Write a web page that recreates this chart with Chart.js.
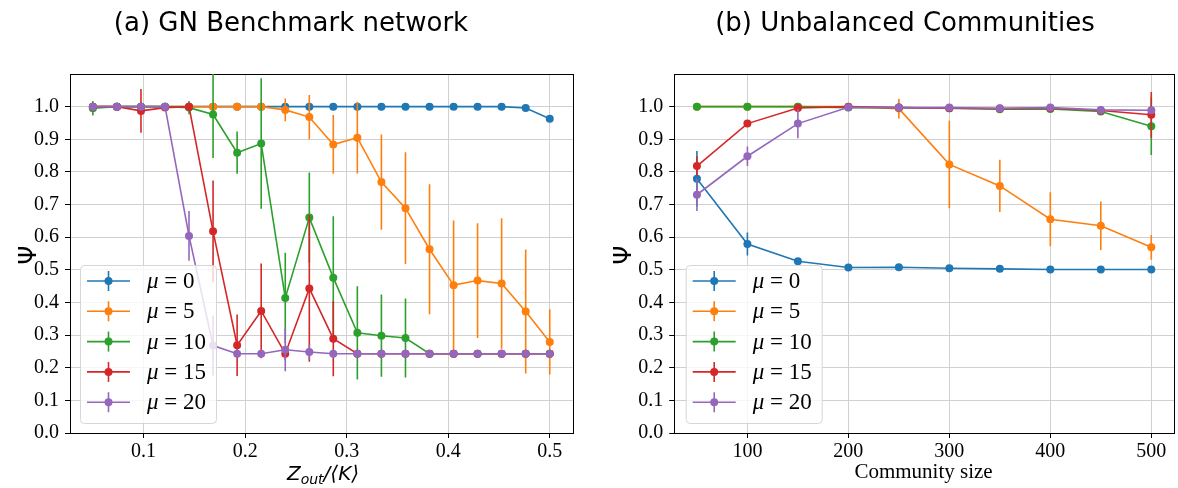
<!DOCTYPE html>
<html>
<head>
<meta charset="utf-8">
<script src="https://cdn.jsdelivr.net/npm/chart.js@4.4.0/dist/chart.umd.min.js"></script>
<style>
  html, body { margin: 0; padding: 0; background: #fff; }
  #wrap { position: relative; width: 1178px; height: 488px; }
  canvas { position: absolute; top: 0; }
</style>
</head>
<body>
<div id="wrap">
  <canvas id="left" width="589" height="488" style="left:0px"></canvas>
  <canvas id="right" width="589" height="488" style="left:589px"></canvas>
</div>
<script>
// ---------- data: (a) GN Benchmark network ----------
const gnX = [0.05, 0.0737, 0.0974, 0.1211, 0.1447, 0.1684, 0.1921, 0.2158, 0.2395, 0.2632,
             0.2868, 0.3105, 0.3342, 0.3579, 0.3816, 0.4053, 0.4289, 0.4526, 0.4763, 0.5];
const gnMu0  = [1, 1, 1, 1, 1, 1, 1, 1, 1, 1, 1, 1, 1, 1, 1, 1, 1, 1, 0.996, 0.963];
const gnMu0Err = [0, 0, 0, 0, 0, 0, 0, 0, 0, 0, 0, 0, 0, 0, 0, 0, 0, 0, 0.004, 0.008];
const gnMu5  = [1, 1, 1, 1, 1, 1, 1, 1, 0.99, 0.968, 0.884, 0.905, 0.769, 0.689, 0.563, 0.453, 0.467, 0.458, 0.372, 0.279];
const gnMu5Err = [0, 0, 0, 0.01, 0, 0, 0, 0, 0.035, 0.068, 0.09, 0.11, 0.146, 0.171, 0.199, 0.198, 0.176, 0.2, 0.19, 0.1];
const gnMu10 = [0.995, 1, 1, 1, 0.997, 0.976, 0.859, 0.887, 0.414, 0.66, 0.476, 0.307, 0.298, 0.291, 0.243, 0.243, 0.243, 0.243, 0.243, 0.243];
const gnMu10Err = [0.022, 0, 0, 0, 0.02, 0.133, 0.065, 0.2, 0.138, 0.138, 0.188, 0.143, 0.126, 0.121, 0, 0, 0, 0, 0, 0];
const gnMu15 = [1, 1, 0.987, 0.997, 1, 0.618, 0.269, 0.374, 0.243, 0.443, 0.289, 0.243, 0.243, 0.243, 0.243, 0.243, 0.243, 0.243, 0.243, 0.243];
const gnMu15Err = [0, 0, 0.067, 0.01, 0, 0.156, 0.094, 0.145, 0.02, 0.225, 0.115, 0, 0, 0, 0, 0, 0, 0, 0, 0];
const gnMu20 = [1, 1, 1, 1, 0.604, 0.268, 0.243, 0.243, 0.255, 0.248, 0.243, 0.243, 0.243, 0.243, 0.243, 0.243, 0.243, 0.243, 0.243, 0.243];
const gnMu20Err = [0, 0, 0, 0, 0.076, 0.092, 0, 0, 0.066, 0.023, 0, 0, 0, 0, 0, 0, 0, 0, 0, 0];
const gnXTicks = [0.1, 0.2, 0.3, 0.4, 0.5];

// ---------- data: (b) Unbalanced Communities ----------
const csX = [50, 100, 150, 200, 250, 300, 350, 400, 450, 500];
const csMu0  = [0.779, 0.579, 0.526, 0.507, 0.508, 0.505, 0.503, 0.501, 0.501, 0.501];
const csMu0Err = [0.085, 0.035, 0.005, 0.003, 0.003, 0.003, 0.003, 0.002, 0.002, 0.002];
const csMu5  = [1, 1, 1, 1, 0.994, 0.823, 0.757, 0.655, 0.635, 0.569];
const csMu5Err = [0, 0, 0, 0, 0.03, 0.134, 0.08, 0.083, 0.074, 0.038];
const csMu10 = [1, 1, 1, 0.997, 0.997, 0.995, 0.992, 0.993, 0.985, 0.94];
const csMu10Err = [0, 0, 0, 0, 0, 0, 0, 0, 0.005, 0.088];
const csMu15 = [0.818, 0.948, 0.996, 1, 0.997, 0.995, 0.994, 0.995, 0.988, 0.975];
const csMu15Err = [0.03, 0.01, 0.01, 0, 0, 0, 0, 0, 0.005, 0.07];
const csMu20 = [0.73, 0.848, 0.948, 0.998, 0.997, 0.997, 0.995, 0.997, 0.99, 0.989];
const csMu20Err = [0.05, 0.03, 0.045, 0, 0, 0, 0, 0, 0.004, 0.004];
const csXTicks = [100, 200, 300, 400, 500];

const yTicks = [0, 0.1, 0.2, 0.3, 0.4, 0.5, 0.6, 0.7, 0.8, 0.9, 1.0];
const seriesLabels = ['0', '5', '10', '15', '20'];
const colors = ['#1f77b4', '#ff7f0e', '#2ca02c', '#d62728', '#9467bd'];

const SERIF = '"Liberation Serif", "Times New Roman", serif';
const SANS = '"DejaVu Sans", sans-serif';

function makeDatasets(xs, ys, errs) {
  return ys.map((vals, k) => ({
    label: 'μ = ' + seriesLabels[k],
    data: xs.map((x, i) => ({ x: x, y: vals[i] })),
    errors: errs[k],
    order: -k,
    borderColor: colors[k],
    backgroundColor: colors[k],
    borderWidth: 1.6,
    pointRadius: 4,
    pointHoverRadius: 4,
    pointBorderWidth: 0,
    tension: 0,
    fill: false
  }));
}

const errorBarPlugin = {
  id: 'errorBars',
  beforeDatasetDraw(chart, args) {
    const ds = chart.data.datasets[args.index];
    if (!ds.errors) return;
    const xs = chart.scales.x, ys = chart.scales.y, a = chart.chartArea;
    const ctx = chart.ctx;
    ctx.save();
    ctx.beginPath();
    ctx.rect(a.left, a.top, a.right - a.left, a.bottom - a.top);
    ctx.clip();
    ctx.strokeStyle = ds.borderColor;
    ctx.lineWidth = 1.6;
    ds.data.forEach((p, i) => {
      const e = ds.errors[i];
      if (!e) return;
      const px = xs.getPixelForValue(p.x);
      ctx.beginPath();
      ctx.moveTo(px, ys.getPixelForValue(p.y - e));
      ctx.lineTo(px, ys.getPixelForValue(p.y + e));
      ctx.stroke();
    });
    ctx.restore();
  }
};

const decorPlugin = {
  id: 'decor',
  beforeDatasetsDraw(chart) {
    const a = chart.chartArea, ctx = chart.ctx;
    ctx.save();
    ctx.strokeStyle = '#000';
    ctx.lineWidth = 1;
    ctx.strokeRect(Math.round(a.left) + 0.5, Math.round(a.top) + 0.5,
                   Math.round(a.right - a.left), Math.round(a.bottom - a.top));
    ctx.restore();
  },
  afterDatasetsDraw(chart, args, opts) {
    const ctx = chart.ctx;
    const L = opts.legend;
    ctx.save();
    ctx.beginPath();
    if (ctx.roundRect) ctx.roundRect(L.x + 0.5, L.y + 0.5, L.w, L.h, 4);
    else ctx.rect(L.x + 0.5, L.y + 0.5, L.w, L.h);
    ctx.fillStyle = 'rgba(255,255,255,0.8)';
    ctx.fill();
    ctx.strokeStyle = '#d6d6d6';
    ctx.lineWidth = 1;
    ctx.stroke();
    chart.data.datasets.forEach((ds, k) => {
      const cy = L.y + L.first + k * L.step;
      const x0 = L.x + 7, x1 = L.x + 50, xm = (x0 + x1) / 2;
      ctx.strokeStyle = ds.borderColor;
      ctx.lineWidth = 1.6;
      ctx.beginPath(); ctx.moveTo(x0, cy); ctx.lineTo(x1, cy); ctx.stroke();
      ctx.beginPath(); ctx.moveTo(xm, cy - 10); ctx.lineTo(xm, cy + 10); ctx.stroke();
      ctx.fillStyle = ds.borderColor;
      ctx.beginPath(); ctx.arc(xm, cy, 4, 0, Math.PI * 2); ctx.fill();
      ctx.fillStyle = '#000';
      ctx.textBaseline = 'middle';
      ctx.textAlign = 'left';
      ctx.font = 'italic 23px ' + SERIF;
      const tx = L.x + 67;
      ctx.fillText('μ', tx, cy + 1);
      const w = ctx.measureText('μ').width;
      ctx.font = '23px ' + SERIF;
      ctx.fillText(' = ' + seriesLabels[k], tx + w, cy + 1);
    });
    ctx.restore();
  },
  afterDraw(chart, args, opts) {
    const ctx = chart.ctx;
    ctx.save();
    ctx.fillStyle = '#000';
    // title
    ctx.font = '26px ' + SANS;
    ctx.textAlign = 'center';
    ctx.textBaseline = 'alphabetic';
    ctx.fillText(opts.title, opts.titleX, 31);
    // y label
    ctx.font = '24px ' + SANS;
    ctx.save();
    ctx.translate(opts.yLabelX, 255);
    ctx.rotate(-Math.PI / 2);
    ctx.textBaseline = 'middle';
    ctx.fillText('Ψ', 0, 0);
    ctx.restore();
    // x label
    if (opts.xLabelMath) {
      const parts = [
        { t: 'Z', f: 'oblique 20px ' + SANS, dy: 0 },
        { t: 'out', f: 'oblique 14px ' + SANS, dy: 4 },
        { t: '/⟨K⟩', f: 'oblique 20px ' + SANS, dy: 0 }
      ];
      let total = 0;
      parts.forEach(p => { ctx.font = p.f; p.w = ctx.measureText(p.t).width; total += p.w; });
      let x = opts.xLabelX - total / 2;
      ctx.textAlign = 'left';
      parts.forEach(p => { ctx.font = p.f; ctx.fillText(p.t, x, 480 + p.dy); x += p.w; });
    } else {
      ctx.font = '21px ' + SERIF;
      ctx.textAlign = 'center';
      ctx.fillText(opts.xLabel, opts.xLabelX, 478);
    }
    ctx.restore();
  }
};

function makeChart(id, xs, ys, errs, xTicks, xMin, xMax, yAxisW, padRight, decor) {
  return new Chart(document.getElementById(id), {
    type: 'line',
    data: { datasets: makeDatasets(xs, ys, errs) },
    plugins: [errorBarPlugin, decorPlugin],
    options: {
      responsive: false,
      animation: false,
      events: [],
      layout: { padding: { left: 0, right: padRight, top: 74, bottom: 0 } },
      plugins: { legend: { display: false }, title: { display: false }, tooltip: { enabled: false },
                 decor: decor },
      scales: {
        x: {
          type: 'linear', min: xMin, max: xMax,
          afterBuildTicks: s => { s.ticks = xTicks.map(v => ({ value: v })); },
          afterFit: s => { s.height = 55; },
          grid: { color: '#d0d0d0', lineWidth: 1, tickColor: '#000', tickLength: 5, drawTicks: true },
          border: { display: true, color: '#000', width: 1 },
          ticks: { color: '#000', font: { family: SERIF, size: 20 }, padding: 2, maxRotation: 0,
                   callback: v => String(v) }
        },
        y: {
          type: 'linear', min: 0, max: 1.1,
          afterBuildTicks: s => { s.ticks = yTicks.map(v => ({ value: v })); },
          afterFit: s => { s.width = yAxisW; },
          grid: { color: '#d0d0d0', lineWidth: 1, tickColor: '#000', tickLength: 5, drawTicks: true },
          border: { display: true, color: '#000', width: 1 },
          ticks: { color: '#000', font: { family: SERIF, size: 20 }, padding: 6,
                   callback: v => v.toFixed(1) }
        }
      }
    }
  });
}

makeChart('left', gnX, [gnMu0, gnMu5, gnMu10, gnMu15, gnMu20],
  [gnMu0Err, gnMu5Err, gnMu10Err, gnMu15Err, gnMu20Err],
  gnXTicks, 0.0275, 0.5225, 70, 16.4,
  { title: '(a) GN Benchmark network', titleX: 291, yLabelX: 30, xLabelMath: true, xLabelX: 323,
    legend: { x: 80, y: 265, w: 136, h: 158, first: 16, step: 30.3 } });

makeChart('right', csX, [csMu0, csMu5, csMu10, csMu15, csMu20],
  [csMu0Err, csMu5Err, csMu10Err, csMu15Err, csMu20Err],
  csXTicks, 27.5, 522.5, 85.2, 1.9,
  { title: '(b) Unbalanced Communities', titleX: 316, yLabelX: 36, xLabelMath: false,
    xLabel: 'Community size', xLabelX: 334.5,
    legend: { x: 96.7, y: 265, w: 136, h: 158, first: 16, step: 30.3 } });
</script>
</body>
</html>
